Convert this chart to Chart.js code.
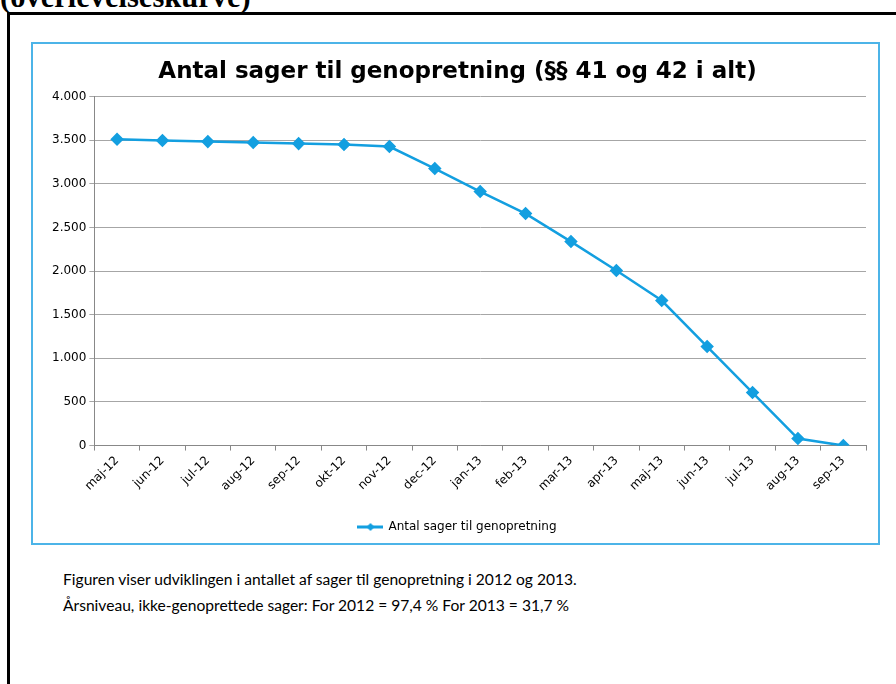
<!DOCTYPE html>
<html>
<head>
<meta charset="utf-8">
<script src="https://cdn.jsdelivr.net/npm/chart.js@4"></script>
<style>
  body { margin: 0; background: #fff; width: 896px; height: 684px; overflow: hidden; position: relative; }
  .heading { position: absolute; left: 0; top: -20px; font: bold 30.5px "Liberation Serif", serif; color: #000; }
  .frame { position: absolute; left: 7px; top: 12px; width: 900px; height: 700px; border-left: 3px solid #000; border-top: 3px solid #000; }
  .chart-box { position: absolute; left: 31px; top: 42px; width: 845px; height: 499px; border: 2px solid #4cb4e8; }
  .note { position: absolute; left: 63px; top: 566px; font: 15.6px Lato, sans-serif; color: #000; line-height: 26px; }
</style>
</head>
<body>
<div class="heading">(overlevelseskurve)</div>
<div class="frame"></div>
<div class="chart-box"><canvas id="chart"></canvas></div>
<div class="note">
  Figuren viser udviklingen i antallet af sager til genopretning i 2012 og 2013.<br>
  Årsniveau, ikke-genoprettede sager: For 2012 = 97,4 % For 2013 = 31,7 %
</div>
<script>
const months = ['maj-12', 'jun-12', 'jul-12', 'aug-12', 'sep-12', 'okt-12', 'nov-12', 'dec-12',
  'jan-13', 'feb-13', 'mar-13', 'apr-13', 'maj-13', 'jun-13', 'jul-13', 'aug-13', 'sep-13'];
const cases = [3510, 3496, 3484, 3473, 3461, 3450, 3427, 3175, 2911, 2659, 2338, 2006, 1662, 1135, 607, 80, 0];
const seriesName = 'Antal sager til genopretning';
const chartTitle = 'Antal sager til genopretning (§§ 41 og 42 i alt)';

const lineBlue = '#139fe0';

// legend marker: short line with a diamond in the middle
const marker = document.createElement('canvas');
marker.width = 26;
marker.height = 12;
const mctx = marker.getContext('2d');
mctx.strokeStyle = lineBlue;
mctx.lineWidth = 3;
mctx.beginPath();
mctx.moveTo(0, 6);
mctx.lineTo(26, 6);
mctx.stroke();
mctx.fillStyle = lineBlue;
mctx.beginPath();
mctx.moveTo(13, 2);
mctx.lineTo(17, 6);
mctx.lineTo(13, 10);
mctx.lineTo(9, 6);
mctx.closePath();
mctx.fill();

const canvas = document.getElementById('chart');
canvas.style.width = '845px';
canvas.style.height = '499px';

new Chart(canvas, {
  type: 'line',
  data: {
    labels: months,
    datasets: [{
      label: seriesName,
      data: cases,
      borderColor: lineBlue,
      backgroundColor: lineBlue,
      borderWidth: 2.5,
      pointStyle: 'rectRot',
      pointRadius: 5,
      pointHoverRadius: 5,
      tension: 0,
      fill: false,
    }],
  },
  options: {
    responsive: false,
    animation: false,
    layout: { padding: { left: 16, right: 12, top: 6, bottom: 0 } },
    plugins: {
      title: {
        display: true,
        text: chartTitle,
        color: '#000',
        font: { family: 'DejaVu Sans', size: 23, weight: 'bold' },
        padding: { top: 8, bottom: 11 },
      },
      legend: {
        position: 'bottom',
        labels: {
          color: '#000',
          font: { family: 'DejaVu Sans', size: 12 },
          usePointStyle: true,
          pointStyleWidth: 24,
          padding: 24,
          generateLabels: (chart) => [{
            text: seriesName,
            pointStyle: marker,
            fillStyle: lineBlue,
            strokeStyle: lineBlue,
            lineWidth: 0,
            datasetIndex: 0,
          }],
        },
      },
      tooltip: { enabled: false },
    },
    scales: {
      x: {
        offset: true,
        grid: { offset: true, drawOnChartArea: false, color: '#888', tickLength: 5 },
        border: { color: '#888' },
        ticks: {
          color: '#000',
          font: { family: 'DejaVu Sans', size: 12 },
          minRotation: 45,
          maxRotation: 45,
          autoSkip: false,
        },
      },
      y: {
        min: 0,
        max: 4000,
        grid: { color: '#a6a6a6', tickLength: 5 },
        border: { color: '#888' },
        ticks: {
          stepSize: 500,
          color: '#000',
          font: { family: 'DejaVu Sans', size: 12 },
          callback: (value) => value.toLocaleString('da-DK'),
        },
      },
    },
  },
});
</script>
</body>
</html>
